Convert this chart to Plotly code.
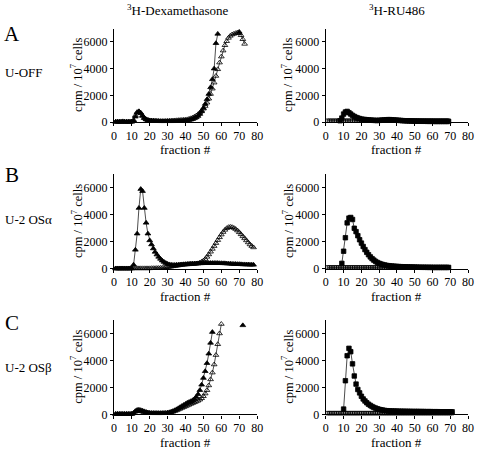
import plotly.graph_objects as go

W, H = 480, 452

# ---------------- data (fraction #, cpm / 10^7 cells) ----------------
# Row A : U-OFF
a_dex_fill_x = list(range(1, 59)) + [None, 70]
a_dex_fill_y = [20, 20, 20, 20, 50, 20, 20, 20, 20, 30,
                100, 400, 700, 800, 650, 450, 300, 200, 150, 120,
                110, 100, 90, 80, 70, 60, 60, 60, 60, 60,
                60, 60, 60, 70, 70, 80, 80, 90, 100, 110,
                120, 150, 180, 220, 280, 350, 450, 600, 800, 1050,
                1350, 1700, 2100, 2600, 3200, 4000, 5900, 6600, None, 6750]
a_dex_open_x = list(range(1, 74))
a_dex_open_y = [20, 20, 20, 20, 20, 20, 20, 20, 20, 30,
                150, 500, 750, 800, 700, 500, 300, 200, 150, 120,
                100, 90, 80, 70, 70, 60, 60, 60, 70, 80,
                90, 100, 110, 120, 130, 140, 150, 160, 170, 180,
                200, 240, 280, 330, 400, 480, 580, 700, 850, 1000,
                1200, 1450, 1750, 2100, 2500, 2950, 3450, 3950, 4450, 4900,
                5350, 5750, 6050, 6300, 6450, 6550, 6600, 6650, 6700, 6650,
                6500, 6200, 5850]
a_ru_fill_x = list(range(8, 70))
a_ru_fill_y = [100, 300, 600, 750, 800, 700, 600, 500, 420, 350,
               300, 260, 220, 200, 190, 175, 160, 150, 140, 130,
               125, 120, 130, 140, 150, 160, 170, 180, 180, 170,
               160, 150, 140, 130, 120, 110, 100, 95, 90, 85,
               80, 75, 70, 70, 65, 65, 60, 60, 60, 55,
               55, 55, 55, 50, 50, 50, 50, 50, 50, 50,
               50, 50]
a_ru_open_x = list(range(1, 70))
a_ru_open_y = [100] * 69

# Row B : U-2 OS alpha
b_dex_fill_x = list(range(1, 79))
b_dex_fill_y = [20, 20, 20, 20, 20, 20, 20, 20, 20, 30,
                300, 1400, 2600, 4500, 5900, 5750, 4500, 3400, 2600, 2100,
                1800, 1500, 1250, 1050, 880, 730, 600, 500, 420, 360,
                320, 290, 280, 280, 290, 300, 310, 320, 330, 340,
                350, 360, 370, 380, 380, 390, 390, 400, 400, 410,
                410, 420, 420, 420, 420, 420, 420, 420, 410, 410,
                400, 400, 390, 380, 370, 360, 350, 350, 340, 340,
                330, 320, 320, 310, 310, 300, 300, 290]
b_dex_open_x = list(range(1, 79))
b_dex_open_y = [20, 20, 20, 20, 20, 20, 20, 20, 20, 20,
                30, 30, 30, 30, 30, 30, 30, 30, 30, 30,
                40, 40, 40, 50, 50, 60, 70, 80, 100, 120,
                140, 160, 180, 200, 220, 240, 260, 280, 300, 310,
                320, 330, 340, 350, 360, 380, 400, 450, 520, 600,
                720, 880, 1060, 1260, 1470, 1680, 1900, 2120, 2330, 2530,
                2720, 2880, 3000, 3080, 3100, 3080, 3020, 2940, 2830, 2700,
                2550, 2400, 2250, 2100, 1950, 1800, 1680, 1580]
b_ru_fill_x = list(range(9, 70))
b_ru_fill_y = [400, 1300, 2300, 3400, 3750, 3800, 3650, 3000, 2750, 2450,
               2150, 1900, 1650, 1420, 1220, 1040, 880, 750, 640, 540,
               460, 400, 350, 310, 280, 250, 230, 210, 200, 190,
               180, 170, 160, 155, 150, 145, 140, 135, 130, 130,
               125, 120, 120, 115, 115, 110, 110, 110, 105, 105,
               105, 100, 100, 100, 100, 100, 100, 100, 100, 100,
               100]
b_ru_open_x = list(range(1, 70))
b_ru_open_y = [100] * 69

# Row C : U-2 OS beta
c_dex_fill_x = list(range(1, 56)) + [None, 72]
c_dex_fill_y = [30, 30, 30, 30, 30, 30, 30, 30, 30, 40,
                100, 250, 330, 350, 320, 280, 230, 180, 140, 110,
                100, 100, 95, 95, 90, 90, 90, 95, 100, 120,
                160, 200, 250, 310, 380, 460, 540, 620, 700, 780,
                860, 920, 980, 1050, 1150, 1300, 1500, 1800, 2200, 2700,
                3200, 3800, 4500, 5300, 6100, None, 6600]
c_dex_open_x = list(range(1, 61))
c_dex_open_y = [30, 30, 30, 30, 30, 30, 30, 30, 30, 40,
                100, 200, 250, 260, 240, 200, 160, 130, 110, 100,
                90, 90, 90, 90, 90, 90, 95, 100, 105, 110,
                130, 160, 200, 250, 300, 360, 420, 480, 540, 600,
                660, 720, 780, 840, 900, 960, 1020, 1100, 1200, 1350,
                1550, 1800, 2150, 2600, 3100, 3700, 4400, 5200, 6000, 6700]
c_ru_fill_x = list(range(10, 72))
c_ru_fill_y = [400, 2500, 4350, 4900, 4650, 3750, 2850, 2250, 1850, 1600,
               1350, 1150, 1000, 870, 760, 670, 590, 520, 470, 420,
               380, 350, 320, 300, 280, 270, 260, 255, 250, 250,
               245, 240, 240, 235, 235, 230, 230, 225, 225, 220,
               220, 220, 220, 215, 215, 215, 210, 210, 210, 210,
               205, 205, 205, 205, 200, 200, 200, 200, 200, 200,
               200, 200]
c_ru_open_x = list(range(1, 72))
c_ru_open_y = [100] * 71

x_ticks = [0, 10, 20, 30, 40, 50, 60, 70, 80]
y_ticks = [0, 2000, 4000, 6000]
col_titles = ["<sup>3</sup>H-Dexamethasone", "<sup>3</sup>H-RU486"]
row_letters = ["A", "B", "C"]
row_names = ["U-OFF", "U-2 OSα", "U-2 OSβ"]

# ---------------- layout geometry (pixels) ----------------
FONT = "Liberation Serif"
cols_px = [(113, 259), (329, 474)]
rows_px = [(29, 124), (177, 273), (325, 421)]

def px(x):
    return x / W

def py(y):
    return 1 - y / H

fig = go.Figure()
layout = {}

panels = [
    (0, 0, [(a_dex_fill_x, a_dex_fill_y, "triangle-up"), (a_dex_open_x, a_dex_open_y, "triangle-up-open")]),
    (0, 1, [(a_ru_open_x, a_ru_open_y, "square-open"), (a_ru_fill_x, a_ru_fill_y, "square")]),
    (1, 0, [(b_dex_fill_x, b_dex_fill_y, "triangle-up"), (b_dex_open_x, b_dex_open_y, "triangle-up-open")]),
    (1, 1, [(b_ru_open_x, b_ru_open_y, "square-open"), (b_ru_fill_x, b_ru_fill_y, "square")]),
    (2, 0, [(c_dex_fill_x, c_dex_fill_y, "triangle-up"), (c_dex_open_x, c_dex_open_y, "triangle-up-open")]),
    (2, 1, [(c_ru_open_x, c_ru_open_y, "square-open"), (c_ru_fill_x, c_ru_fill_y, "square")]),
]

for i, (r, c, series) in enumerate(panels):
    n = i + 1
    xa = "x" if n == 1 else f"x{n}"
    ya = "y" if n == 1 else f"y{n}"
    for sx, sy, sym in series:
        size = 5 if "triangle" in sym else 4.5
        if sym == "square-open":
            size = 3.5
        fig.add_trace(go.Scatter(
            x=sx, y=sy, xaxis=xa, yaxis=ya, mode="lines+markers",
            line=dict(color="black", width=0.7),
            marker=dict(symbol=sym, size=size, color="black",
                        line=dict(color="black", width=0.8)),
            cliponaxis=False, showlegend=False, connectgaps=False,
            hoverinfo="skip"))
    x0, x1 = cols_px[c]
    y0, y1 = rows_px[r]
    axis_common = dict(showline=True, linecolor="black", linewidth=1.2,
                       ticks="outside", ticklen=3, tickwidth=1, tickcolor="black",
                       showgrid=False, zeroline=False, fixedrange=True,
                       tickfont=dict(family=FONT, size=12, color="black"))
    layout[f"xaxis{'' if n == 1 else n}"] = dict(
        domain=[px(x0), px(x1)], anchor=ya, range=[0, 80], ticklabelstandoff=-1,
        tickvals=x_ticks, ticktext=[str(v) for v in x_ticks], **axis_common)
    layout[f"yaxis{'' if n == 1 else n}"] = dict(
        domain=[py(y1), py(y0)], anchor=xa, range=[0, 7000],
        tickvals=y_ticks, ticktext=[str(v) for v in y_ticks], **axis_common)

fig.update_layout(**layout)

def note(text, x, y, size, xanchor="center", angle=0):
    return dict(text=text, x=px(x), y=py(y), xref="paper", yref="paper",
                xanchor=xanchor, yanchor="middle", showarrow=False, textangle=angle,
                font=dict(family=FONT, size=size, color="black"))

ann = []
for r in range(3):
    y0, y1 = rows_px[r]
    for c in range(2):
        x0, x1 = cols_px[c]
        ann.append(note("fraction #", (x0 + x1) / 2, y1 + 28, 13))
        ytx = 75 if c == 0 else 290
        ann.append(note("cpm / 10<sup>7</sup> cells", ytx, (y0 + y1) / 2, 12.5, angle=-90))
    ann.append(note(row_letters[r], 9, [35, 178, 328][r], 21))
    ann.append(note(row_names[r], 0, [74, 223, 373][r], 13, xanchor="left"))

ann.append(note(col_titles[0], 178, 10, 13))
ann.append(note(col_titles[1], 402, 10, 13))

fig.update_layout(annotations=ann, width=W, height=H,
                  margin=dict(l=0, r=0, t=0, b=0),
                  plot_bgcolor="white", paper_bgcolor="white")

fig.write_html("out.html", config={"displayModeBar": False},
               post_script="document.body.style.margin='0px';document.body.style.overflow='hidden';")
